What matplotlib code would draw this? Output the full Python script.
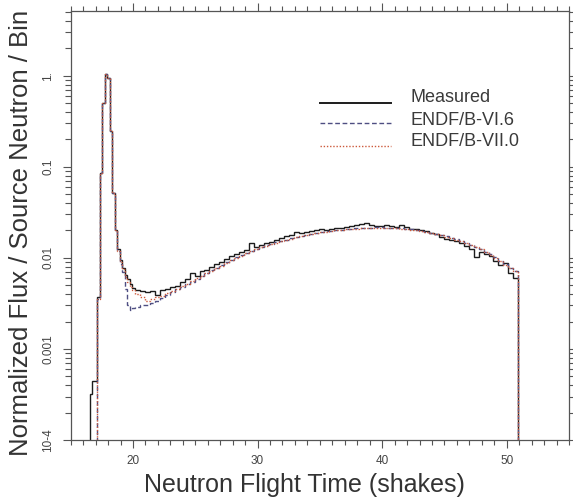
import numpy as np
import matplotlib
matplotlib.use("Agg")
import matplotlib.pyplot as plt
from matplotlib.lines import Line2D
from matplotlib.ticker import FixedLocator, FixedFormatter, LogLocator, NullFormatter, MultipleLocator

plt.rcParams["font.family"] = ["Liberation Sans", "DejaVu Sans"]
plt.rcParams["lines.scale_dashes"] = False

# Time bins (shakes): fine bins across the source peak, coarser bins afterwards
fine_edges = np.round(np.arange(16.54, 20.14 + 1e-9, 0.2), 2)
coarse_edges = np.round(np.arange(20.54, 50.94 + 1e-9, 0.4), 2)
edges = np.concatenate([fine_edges, coarse_edges])
model_start = 3  # calculations begin at the 17.14 shake edge

measured = [
    3.2e-4, 4.4e-4, 4.4e-4, 3.7e-3, 0.086, 0.50, 1.05, 0.95, 0.25,
    0.051, 0.020, 0.0125, 0.0095, 0.0078, 0.0065, 0.0058, 0.0052, 0.0047,
    0.0044, 0.0043, 0.0042, 0.0043, 0.0039, 0.0044, 0.0046, 0.0048, 0.0049,
    0.0055, 0.0058, 0.0068, 0.0064, 0.0071, 0.0074, 0.0080, 0.0086, 0.0091,
    0.0097, 0.0105, 0.0110, 0.0117, 0.0123, 0.0145, 0.0130, 0.0138, 0.0145,
    0.0150, 0.0158, 0.0165, 0.0172, 0.0180, 0.0194, 0.0188, 0.0192, 0.0196,
    0.0200, 0.0205, 0.0202, 0.0210, 0.0214, 0.0212, 0.0218, 0.0222, 0.0228,
    0.0236, 0.0240, 0.0232, 0.0226, 0.0224, 0.0232, 0.0222, 0.0220, 0.0228,
    0.0218, 0.0210, 0.0206, 0.0200, 0.0196, 0.0188, 0.0182, 0.0168, 0.0160,
    0.0158, 0.0152, 0.0146, 0.0136, 0.0124, 0.0102, 0.0115, 0.0110, 0.0104,
    0.0092, 0.0084, 0.0088, 0.0068, 0.0060,
]

endf_b_vi6 = [
    3.5e-3, 0.085, 0.50, 1.05, 0.95, 0.25,
    0.052, 0.020, 0.012, 0.0085, 0.0070, 0.0046, 0.0030, 0.0027, 0.0028,
    0.0029, 0.0030, 0.0030, 0.0032, 0.0034, 0.0036, 0.0039, 0.0042, 0.0045,
    0.0048, 0.0051, 0.0055, 0.0059, 0.0063, 0.0068, 0.0073, 0.0078, 0.0083,
    0.0089, 0.0095, 0.0101, 0.0107, 0.0113, 0.0119, 0.0125, 0.0131, 0.0137,
    0.0142, 0.0148, 0.0153, 0.0159, 0.0164, 0.0170, 0.0174, 0.0179, 0.0183,
    0.0187, 0.0191, 0.0195, 0.0198, 0.0201, 0.0204, 0.0206, 0.0209, 0.0211,
    0.0213, 0.0214, 0.0215, 0.0216, 0.0216, 0.0215, 0.0214, 0.0213, 0.0211,
    0.0208, 0.0205, 0.0201, 0.0198, 0.0193, 0.0189, 0.0184, 0.0178, 0.0172,
    0.0166, 0.0160, 0.0153, 0.0147, 0.0140, 0.0132, 0.0125, 0.0117, 0.0109,
    0.0101, 0.0093, 0.0085, 0.0078, 0.0072,
]

endf_b_vii0 = [
    3.5e-3, 0.085, 0.50, 1.05, 0.95, 0.25,
    0.052, 0.020, 0.012, 0.0090, 0.0075, 0.0062, 0.0055, 0.0048, 0.0044,
    0.0040, 0.0037, 0.0034, 0.0035, 0.0037, 0.0038, 0.0041, 0.0043, 0.0046,
    0.0049, 0.0052, 0.0056, 0.0060, 0.0064, 0.0068, 0.0072, 0.0077, 0.0082,
    0.0088, 0.0094, 0.0100, 0.0106, 0.0112, 0.0118, 0.0124, 0.0130, 0.0136,
    0.0141, 0.0147, 0.0152, 0.0158, 0.0163, 0.0168, 0.0173, 0.0178, 0.0182,
    0.0186, 0.0190, 0.0194, 0.0197, 0.0200, 0.0203, 0.0206, 0.0208, 0.0210,
    0.0212, 0.0213, 0.0214, 0.0215, 0.0215, 0.0214, 0.0213, 0.0212, 0.0210,
    0.0207, 0.0204, 0.0200, 0.0197, 0.0192, 0.0188, 0.0183, 0.0177, 0.0171,
    0.0165, 0.0159, 0.0152, 0.0146, 0.0139, 0.0131, 0.0124, 0.0116, 0.0108,
    0.0100, 0.0092, 0.0084, 0.0077, 0.0071,
]

series_labels = ["Measured", "ENDF/B-VI.6", "ENDF/B-VII.0"]
y_tick_values = [1e-4, 1e-3, 1e-2, 1e-1, 1.0]
y_tick_labels = ["10-4", "0.001", "0.01", "0.1", "1."]
x_tick_values = [20, 30, 40, 50]

col_meas = "#1c1c1c"
col_vi6 = "#4e4e82"
col_vii0 = "#cc5a3c"
axis_gray = "#555555"
text_gray = "#333333"

fig = plt.figure(figsize=(5.73, 5.0), dpi=100)
ax = fig.add_axes([0.1234, 0.12, 0.8696, 0.859])
ax.set_yscale("log")

base = 1e-8
ax.stairs(endf_b_vii0, edges[model_start:], baseline=base, color=col_vii0,
          lw=1.0, linestyle=(0, (1.0, 1.3)), zorder=3)
ax.stairs(endf_b_vi6, edges[model_start:], baseline=base, color=col_vi6,
          lw=1.0, linestyle=(0, (3.4, 1.9)), zorder=2)
ax.stairs(measured, edges, baseline=base, color=col_meas, lw=1.0, zorder=1)

ax.set_xlim(15, 55)
ax.set_ylim(1e-4, 5.2)

# Axes frame and ticks on all four sides, pointing outward
for sp in ax.spines.values():
    sp.set_color(axis_gray)
    sp.set_linewidth(0.9)

ax.xaxis.set_major_locator(FixedLocator(x_tick_values))
ax.xaxis.set_minor_locator(MultipleLocator(1))
ax.yaxis.set_major_locator(FixedLocator(y_tick_values))
ax.yaxis.set_major_formatter(FixedFormatter(y_tick_labels))
ax.yaxis.set_minor_locator(LogLocator(base=10, subs=np.arange(2, 10), numticks=20))
ax.yaxis.set_minor_formatter(NullFormatter())

ax.tick_params(axis="both", which="both", direction="out", colors=axis_gray,
               top=True, right=True, width=0.8)
ax.tick_params(axis="x", which="major", length=6, labelsize=8.5, pad=5,
               labelcolor="#444444")
ax.tick_params(axis="x", which="minor", length=3.5)
ax.tick_params(axis="y", which="major", length=6, labelsize=8.5, pad=6,
               labelcolor="#444444")
ax.tick_params(axis="y", which="minor", length=4.5)
for lab in ax.get_yticklabels():
    lab.set_rotation(90)
    lab.set_va("center")

ax.set_xlabel("Neutron Flight Time (shakes)", fontsize=18, color=text_gray)
ax.xaxis.set_label_coords(0.47, -0.077)
ax.set_ylabel("Normalized Flux / Source Neutron / Bin", fontsize=18.5,
              color=text_gray)
ax.yaxis.set_label_coords(-0.076, 0.483)

# Key drawn inside the axes
key_x0, key_x1, text_x = 0.500, 0.643, 0.681
key_rows = [(0.784, 0.787), (0.737, 0.733), (0.685, 0.685)]
key_styles = [
    dict(color=col_meas, lw=1.4, linestyle="-"),
    dict(color=col_vi6, lw=1.0, linestyle=(0, (3.4, 1.9))),
    dict(color=col_vii0, lw=1.0, linestyle=(0, (1.0, 1.3))),
]
for (ly, ty), style, label in zip(key_rows, key_styles, series_labels):
    ax.add_line(Line2D([key_x0, key_x1], [ly, ly], transform=ax.transAxes,
                       **style))
    ax.text(text_x, ty, label, transform=ax.transAxes, fontsize=13,
            color="#3a3a3a", va="baseline", ha="left")

fig.savefig("out.png", dpi=100)
